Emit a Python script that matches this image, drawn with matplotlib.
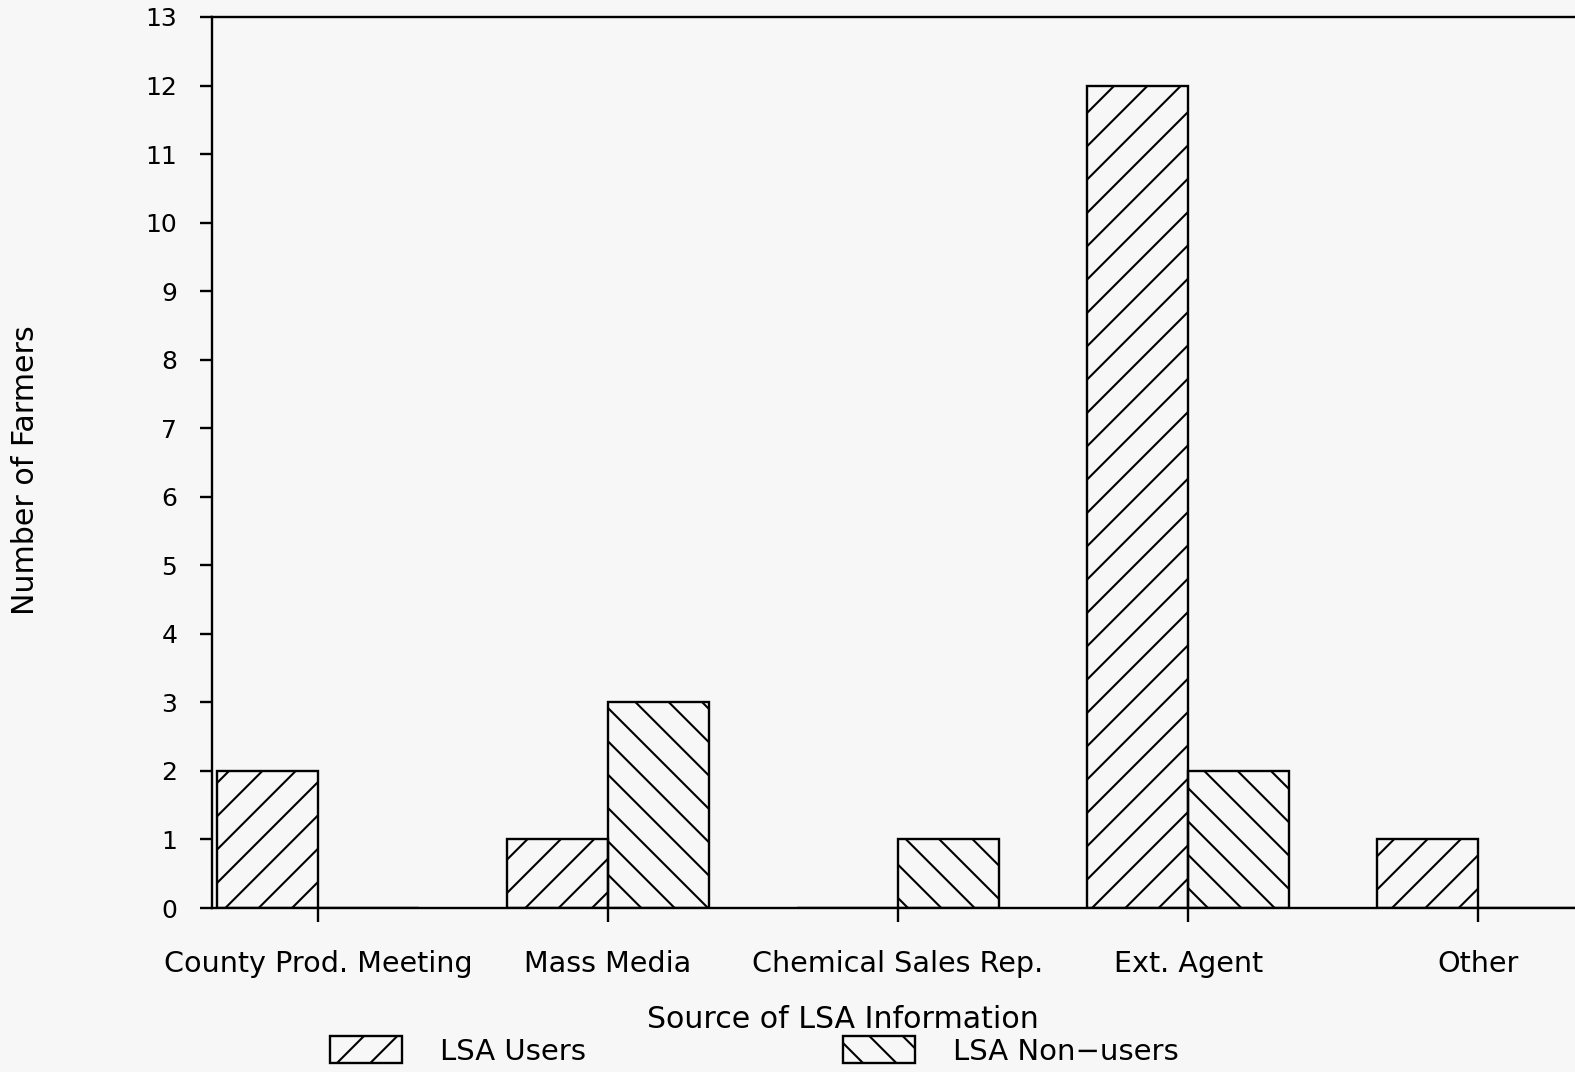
import matplotlib
matplotlib.use("Agg")
import matplotlib.pyplot as plt
import numpy as np

categories = ["County Prod. Meeting", "Mass Media", "Chemical Sales Rep.", "Ext. Agent", "Other"]
lsa_users = [2, 1, 0, 12, 1]
lsa_non_users = [0, 3, 1, 2, 0]
y_ticks = list(range(0, 14))

plt.rcParams['font.family'] = ['DejaVu Sans']
plt.rcParams['hatch.linewidth'] = 0.75
plt.rcParams['hatch.color'] = 'black'

bg = '#f7f7f7'
fig = plt.figure(figsize=(7.875, 5.36), dpi=200, facecolor=bg)
ax = fig.add_axes([212 / 1575, 164 / 1072, 1 - 212 / 1575, (908 - 17) / 1072])
ax.set_facecolor(bg)

x = np.arange(len(categories))
w = 0.348
ax.bar(x, lsa_users, width=-w, align='edge', facecolor='none', edgecolor='black',
       linewidth=0.85, hatch='//', label='LSA Users')
ax.bar(x, lsa_non_users, width=w, align='edge', facecolor='none', edgecolor='black',
       linewidth=0.85, hatch='\\\\', label='LSA Non\u2212users')

ax.set_xlim(-0.3655, 4.334)
ax.set_ylim(0, 13)
ax.set_yticks(y_ticks)
ax.set_xticks(x)
ax.set_xticklabels(categories)

ax.spines['right'].set_visible(False)
for s in ['left', 'bottom', 'top']:
    ax.spines[s].set_linewidth(0.85)

ax.tick_params(axis='y', direction='out', length=4.5, width=0.85, labelsize=9, pad=8)
ax.tick_params(axis='x', direction='out', length=5, width=0.85, labelsize=10.3, pad=10)

ax.set_xlabel("Source of LSA Information", fontsize=10.8)
ax.xaxis.set_label_coords((843 - 212) / 1363, -(1005 - 908) / 891, transform=ax.transAxes)
ax.set_ylabel("Number of Farmers", fontsize=10.8)
ax.yaxis.set_label_coords(-(212 - 40) / 1363, (908 - 470) / 891, transform=ax.transAxes)

fig.legend(loc='center left', bbox_to_anchor=(330 / 1575, 1 - 1051 / 1072), ncol=2,
           frameon=False, fontsize=10.5, handlelength=2.48, handleheight=1.03,
           handletextpad=1.3, columnspacing=8.8, borderaxespad=0, borderpad=0)

fig.savefig("out.png", dpi=200, facecolor=bg)
